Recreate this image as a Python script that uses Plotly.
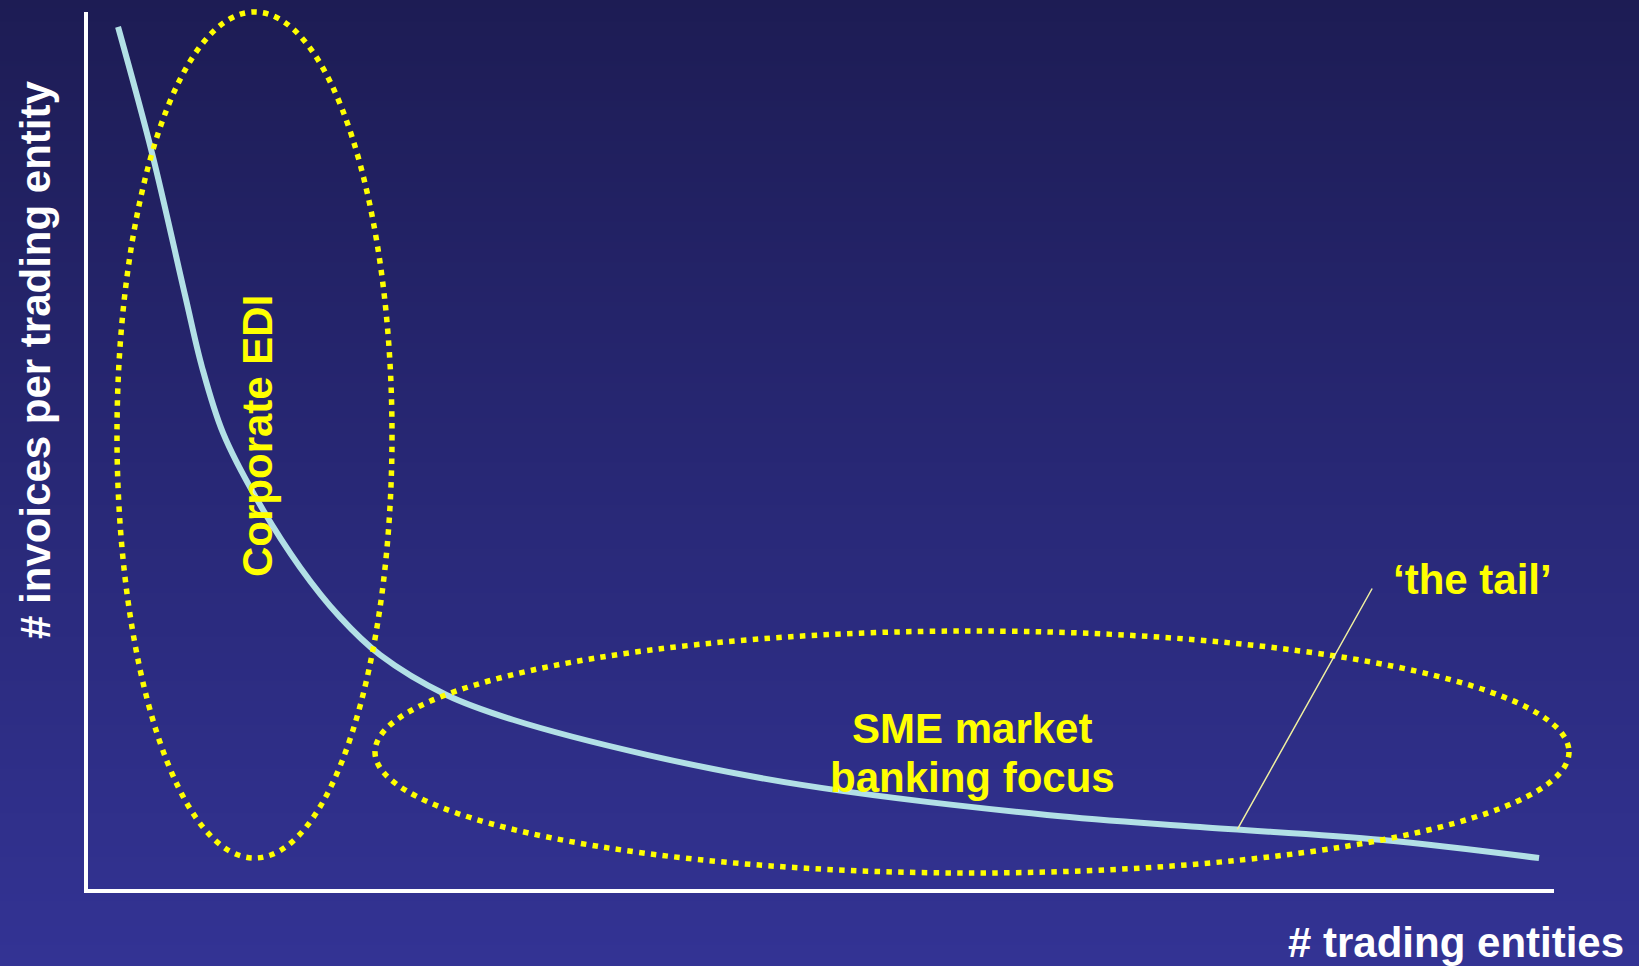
import plotly.graph_objects as go

W, H = 1639, 966

# Curve data: trading entities (x) vs invoices per trading entity (y), arbitrary 0-100 scale
entities = [2.05, 4.37, 6.62, 7.78, 9.21, 11.53, 14.46, 17.19, 19.92, 24.49, 28.99,
            38.13, 48.57, 65.42, 75.85, 88.33, 98.98]
invoices = [98.3, 83.9, 67.7, 59.5, 52.0, 44.4, 36.7, 31.0, 26.7, 22.1, 19.3,
            15.3, 11.9, 8.44, 7.07, 5.59, 3.53]
tail_x, tail_y = 78.4, 6.8   # point on the curve where 'the tail' pointer lands

# Background gradient stops (bottom, middle, top)
bg_levels = [0, 1, 2]
bg_colors = ["rgb(51,51,148)", "rgb(40,40,118)", "rgb(29,28,84)"]

FONT = "Liberation Sans, Arial, sans-serif"

def px_x(p):
    return p / W

def px_y(p):
    return 1 - p / H

fig = go.Figure()

# background gradient on a full-paper axis pair
fig.add_trace(go.Heatmap(
    x=[0, 1], y=[0, 0.5, 1],
    z=[[bg_levels[0]] * 2, [bg_levels[1]] * 2, [bg_levels[2]] * 2],
    colorscale=[[0, bg_colors[0]], [0.5, bg_colors[1]], [1, bg_colors[2]]],
    zsmooth="best", showscale=False, hoverinfo="skip",
    xaxis="x", yaxis="y",
))

fig.add_trace(go.Scatter(
    x=entities, y=invoices, mode="lines",
    line=dict(color="rgb(178,224,230)", width=6, shape="spline", smoothing=1.0),
    hoverinfo="skip", xaxis="x2", yaxis="y2",
))

x_dom = [88 / W, 1554 / W]
y_dom = [1 - 889 / H, 1 - 12 / H]

fig.update_layout(
    width=W, height=H,
    margin=dict(l=0, r=0, t=0, b=0),
    paper_bgcolor="rgb(40,40,118)",
    plot_bgcolor="rgba(0,0,0,0)",
    showlegend=False,
    xaxis=dict(domain=[0, 1], range=[0, 1], visible=False, fixedrange=True),
    yaxis=dict(domain=[0, 1], range=[0, 1], visible=False, fixedrange=True),
    xaxis2=dict(domain=x_dom, range=[0, 100], anchor="y2", showline=True,
                linecolor="white", linewidth=4, showgrid=False, zeroline=False,
                showticklabels=False, ticks=""),
    yaxis2=dict(domain=y_dom, range=[0, 100], anchor="x2", showline=True,
                linecolor="white", linewidth=4, showgrid=False, zeroline=False,
                showticklabels=False, ticks=""),
)

dot = dict(color="yellow", width=5.5, dash="5.5px,6.3px")
fig.add_shape(type="circle", xref="paper", yref="paper",
              x0=px_x(117), x1=px_x(392), y0=px_y(858), y1=px_y(12), line=dot)
fig.add_shape(type="circle", xref="paper", yref="paper",
              x0=px_x(375), x1=px_x(1569), y0=px_y(873), y1=px_y(631), line=dot)

def label(text, x, y, color, angle=0):
    fig.add_annotation(text="<b>" + text + "</b>", xref="paper", yref="paper",
                       x=px_x(x), y=px_y(y),
                       xanchor="center", yanchor="middle", showarrow=False,
                       textangle=angle,
                       font=dict(family=FONT, size=42, color=color))

label("# invoices per trading entity", 35, 360, "white", -90)
label("# trading entities", 1456, 942, "white")
label("Corporate EDI", 257, 436, "yellow", -90)
label("SME market", 972, 728, "yellow")
label("banking focus", 972, 777, "yellow")
label("\u2018the tail\u2019", 1472, 579, "yellow")

# pointer from 'the tail' label to the curve
fig.add_annotation(text="", x=tail_x, y=tail_y,
                   xref="x2", yref="y2", axref="x2", ayref="y2",
                   ax=(1373 - 88) / 14.66, ay=(889 - 587) / 8.77,
                   showarrow=True, arrowhead=0, arrowwidth=1.5,
                   arrowcolor="rgb(240,240,160)", standoff=0, startstandoff=0)

fig.write_html("out.html")
